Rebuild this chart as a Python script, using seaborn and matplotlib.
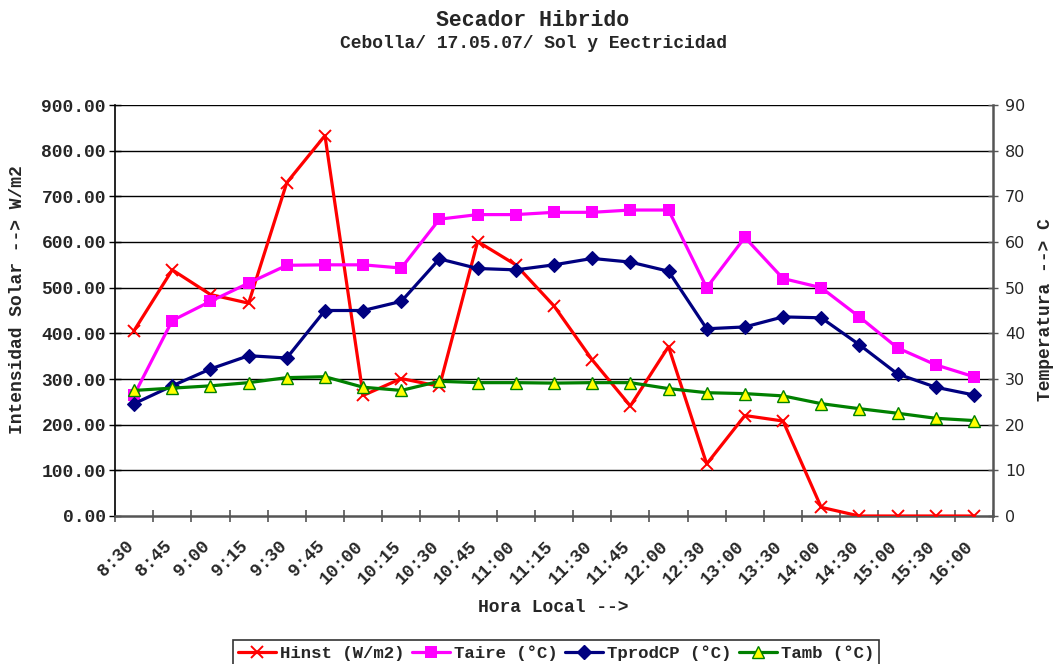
import matplotlib
matplotlib.use("Agg")
import matplotlib.pyplot as plt
import matplotlib.transforms as mtransforms
import seaborn as sns
import pandas as pd
from matplotlib.lines import Line2D
from matplotlib.ticker import FixedLocator, FormatStrFormatter

horas = ["8:30", "8:45", "9:00", "9:15", "9:30", "9:45", "10:00", "10:15", "10:30",
         "10:45", "11:00", "11:15", "11:30", "11:45", "12:00", "12:30", "13:00",
         "13:30", "14:00", "14:30", "15:00", "15:30", "16:00"]
hinst = [406, 539, 485, 466, 730, 833, 264, 301, 284, 601, 550, 460, 342, 241, 371,
         114, 220, 208, 19, 0, 0, 0, 0]
taire = [26.5, 42.8, 47.0, 51.0, 54.9, 55.0, 55.0, 54.3, 65.0, 66.0, 66.0, 66.5, 66.5,
         67.0, 67.0, 50.0, 61.0, 52.0, 50.0, 43.6, 36.8, 33.1, 30.5]
tprod = [24.6, 28.5, 32.2, 35.1, 34.6, 45.0, 45.0, 47.0, 56.3, 54.2, 53.9, 55.0, 56.4,
         55.6, 53.6, 41.0, 41.4, 43.6, 43.4, 37.5, 31.1, 28.2, 26.5]
tamb = [27.5, 28.0, 28.5, 29.2, 30.3, 30.5, 28.2, 27.5, 29.5, 29.2, 29.2, 29.1, 29.2,
        29.2, 27.9, 27.0, 26.8, 26.3, 24.6, 23.5, 22.5, 21.4, 20.9]
series_names = ["Hinst (W/m2)", "Taire (°C)", "TprodCP (°C)", "Tamb (°C)"]

df = pd.DataFrame({"hora": horas, "hinst": hinst, "taire": taire,
                   "tprod": tprod, "tamb": tamb})

sns.set_theme(style="white")
MONO = "Liberation Mono"
FS = 13

fig = plt.figure(figsize=(10.55, 6.64), dpi=100)
ax = fig.add_axes([115/1055, 1 - 516/664, (993-115)/1055, (516-105)/664])
ax2 = ax.twinx()

lw = 2.3
sns.lineplot(data=df, x="hora", y="hinst", ax=ax, sort=False, color="#FF0000",
             linewidth=lw, marker="x", markersize=9, markeredgewidth=1.4,
             markeredgecolor="#FF0000", zorder=3)
sns.lineplot(data=df, x="hora", y="taire", ax=ax2, sort=False, color="#FF00FF",
             linewidth=lw, marker="s", markersize=9, markeredgewidth=0,
             markerfacecolor="#FF00FF", zorder=3)
sns.lineplot(data=df, x="hora", y="tprod", ax=ax2, sort=False, color="#000080",
             linewidth=lw, marker="D", markersize=7.5, markeredgewidth=0.8,
             markeredgecolor="#000080", markerfacecolor="#000080", zorder=3)
sns.lineplot(data=df, x="hora", y="tamb", ax=ax2, sort=False, color="#008000",
             linewidth=lw, marker="^", markersize=9, markeredgewidth=1.0,
             markeredgecolor="#008000", markerfacecolor="#FFFF00", zorder=3)

n = len(horas)
for a in (ax, ax2):
    a.set_xlim(-0.5, n - 0.5)
    a.set_xlabel("")
    a.set_ylabel("")
ax.set_ylim(0, 900)
ax2.set_ylim(0, 90)
ax.set_yticks(range(0, 901, 100))
ax2.set_yticks(range(0, 91, 10))
ax.yaxis.set_major_formatter(FormatStrFormatter("%.2f"))

# grid
ax.grid(False)
ax2.grid(False)
for v in range(100, 901, 100):
    ax.axhline(v, color="black", linewidth=1.0, zorder=0)

# x ticks: labels at centers, tick marks between categories
ax.set_xticks(range(n))
ax.set_xticklabels(horas, rotation=45, ha="right", va="top", rotation_mode="anchor",
                   fontfamily=MONO, fontweight="bold", fontsize=FS)
ax.tick_params(axis="x", which="major", length=0, pad=19)
offset = mtransforms.ScaledTranslation(-9/100, 5/100, fig.dpi_scale_trans)
for lab in ax.get_xticklabels():
    lab.set_transform(lab.get_transform() + offset)
ax.xaxis.set_minor_locator(FixedLocator([i - 0.5 for i in range(n + 1)]))
ax.tick_params(axis="x", which="minor", length=8, direction="inout", width=1.2,
               color="#555555", bottom=True)
ax2.tick_params(axis="x", which="both", bottom=False, labelbottom=False)

ax.tick_params(axis="y", which="major", length=9, direction="inout", width=1.0,
               color="black", left=True, pad=2)
for lab in ax.get_yticklabels():
    lab.set_fontfamily(MONO)
    lab.set_fontweight("bold")
    lab.set_fontsize(FS)
ax2.tick_params(axis="y", which="major", length=7, direction="inout", width=1.0,
                color="#555555", right=True, pad=5, labelsize=11.5)

ax.spines["left"].set_color("black")
ax.spines["left"].set_linewidth(1.2)
ax.spines["bottom"].set_color("#555555")
ax.spines["bottom"].set_linewidth(1.8)
ax.spines["top"].set_visible(False)
ax.spines["right"].set_visible(False)
ax2.spines["top"].set_visible(False)
ax2.spines["left"].set_visible(False)
ax2.spines["bottom"].set_visible(False)
ax2.spines["right"].set_color("#555555")
ax2.spines["right"].set_linewidth(1.8)

fig.text(533/1055, 1 - 20/664, "Secador Hibrido", ha="center", va="center",
         fontfamily=MONO, fontweight="bold", fontsize=15.5)
fig.text(533/1055, 1 - 44/664, "Cebolla/ 17.05.07/ Sol y Eectricidad", ha="center",
         va="center", fontfamily=MONO, fontweight="bold", fontsize=FS)
fig.text(18/1055, 1 - 300/664, "Intensidad Solar --> W/m2", rotation=90,
         ha="center", va="center", fontfamily=MONO, fontweight="bold", fontsize=FS)
fig.text(1045/1055, 1 - 310/664, "Temperatura --> C", rotation=90,
         ha="center", va="center", fontfamily=MONO, fontweight="bold", fontsize=FS)
fig.text(553/1055, 1 - 607/664, "Hora Local -->", ha="center", va="center",
         fontfamily=MONO, fontweight="bold", fontsize=FS)

handles = [
    Line2D([], [], color="#FF0000", lw=lw, marker="x", markersize=9,
           markeredgewidth=1.4),
    Line2D([], [], color="#FF00FF", lw=lw, marker="s", markersize=9,
           markeredgewidth=0),
    Line2D([], [], color="#000080", lw=lw, marker="D", markersize=7.5),
    Line2D([], [], color="#008000", lw=lw, marker="^", markersize=9,
           markerfacecolor="#FFFF00", markeredgecolor="#008000"),
]
leg = fig.legend(handles, series_names, loc="upper center",
                 bbox_to_anchor=(556/1055, 1 - 640/664), ncol=4, frameon=True,
                 fancybox=False, edgecolor="black", handlelength=2.2,
                 handletextpad=0.2, columnspacing=0.45, borderpad=0.3,
                 borderaxespad=0.0,
                 prop={"family": MONO, "weight": "bold", "size": 12.5})
leg.get_frame().set_linewidth(1.2)

fig.savefig("out.png", dpi=100, facecolor="white")
